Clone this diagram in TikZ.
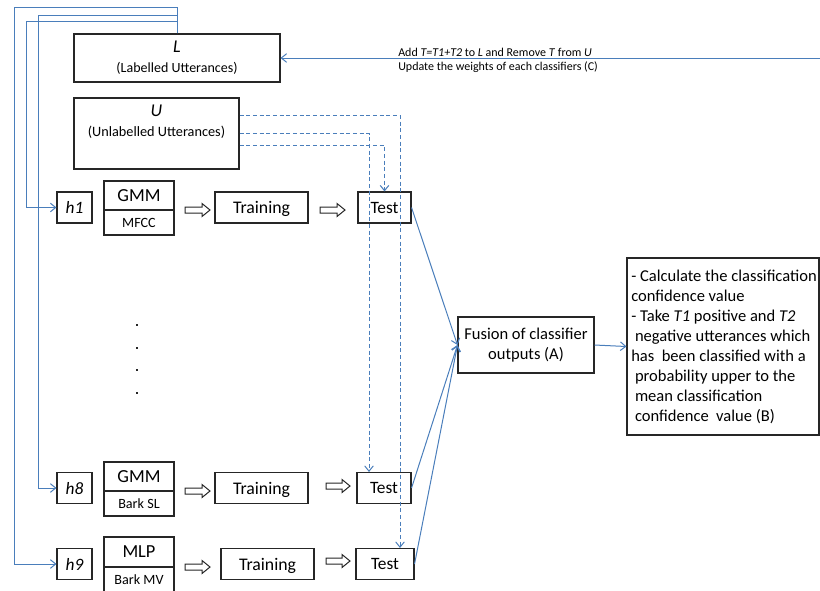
\documentclass[tikz,border=0pt]{standalone}
\usepackage{fontspec}
\setmainfont{Carlito}
\usetikzlibrary{arrows.meta,calc}
\definecolor{lblue}{HTML}{4A7EBB}
\newlength{\pxu}\setlength{\pxu}{0.75pt}
\newcommand{\fs}[2]{\fontsize{#1}{#2}\selectfont}
\newcommand{\harrow}[3]{%
  \draw[hollow] (#1,#2-3) -- (#1+#3-8,#2-3) -- (#1+#3-8,#2-6.5) -- (#1+#3,#2) -- (#1+#3-8,#2+6.5) -- (#1+#3-8,#2+3) -- (#1,#2+3) -- cycle;}
\begin{document}
\begin{tikzpicture}[x=0.75pt,y=-0.75pt,
  box/.style={draw=black!85,line width=0.8pt,inner sep=0pt},
  sbox/.style={box,text depth=0pt},
  conn/.style={draw=lblue,line width=0.75pt,-{Straight Barb[length=4pt,width=6.5pt]}},
  dconn/.style={conn,dash pattern=on 3pt off 2pt},
  hollow/.style={draw=black!85,line width=0.75pt,fill=white},
  hbox/.style={sbox,minimum width=35\pxu,minimum height=31\pxu,font=\fs{13}{15}\itshape},
  topbox/.style={sbox,minimum width=70\pxu,font=\fs{13.8}{16}},
  botbox/.style={sbox,minimum width=70\pxu,font=\fs{10.6}{13}},
  trbox/.style={sbox,minimum width=93\pxu,minimum height=31\pxu,font=\fs{13.3}{15}},
  tebox/.style={sbox,minimum height=31\pxu,font=\fs{13}{15}},
  dotmark/.style={fill=black!85}]
\useasboundingbox (0,0) rectangle (820,590);

% L and U
\node[box,minimum width=206\pxu,minimum height=48\pxu,align=center,font=\fs{10.5}{15}] (L) at (177,58) {{\fs{13.5}{15}\itshape L}\\(Labelled Utterances)};
\node[box,minimum width=165\pxu,minimum height=71\pxu,align=center,font=\fs{10.7}{15}] (U) at (156.5,133.5) {{\fs{13.5}{15}\itshape U}\\(Unlabelled Utterances)\\\strut};

% row 1
\node[hbox] (h1) at (74.5,207.5) {h1};
\node[topbox,minimum height=29\pxu] (g1) at (139,195.5) {GMM};
\node[botbox,minimum height=25\pxu] (f1) at (139,222.5) {MFCC};
\node[trbox] (tr1) at (261.5,207.5) {Training};
\node[tebox,minimum width=53\pxu] (te1) at (384.5,207.5) {Test};
\harrow{185}{210}{25}
\harrow{320}{210}{25}

% row 8
\node[hbox] (h8) at (74.5,488) {h8};
\node[topbox,minimum height=29\pxu] (g8) at (139,476.5) {GMM};
\node[botbox,minimum height=25\pxu] (f8) at (139,503.5) {Bark SL};
\node[trbox] (tr8) at (261.5,488) {Training};
\node[tebox,minimum width=54\pxu] (te8) at (384,488) {Test};
\harrow{185}{491}{25}
\harrow{326}{486}{24}

% row 9
\node[hbox] (h9) at (74.5,564) {h9};
\node[topbox,minimum height=30\pxu] (g9) at (139,552) {MLP};
\node[botbox,minimum height=26\pxu] (f9) at (139,580) {Bark MV};
\node[trbox] (tr9) at (267.5,564) {Training};
\node[tebox,minimum width=58\pxu] (te9) at (385,564) {Test};
\harrow{185}{567}{25}
\harrow{326}{561}{24}

% dots
\foreach \yy in {325,348,370,393} \fill[dotmark] (136,\yy-1) rectangle (138,\yy+1);

% fusion and selection
\node[box,minimum width=136\pxu,minimum height=56\pxu,align=center,font=\fs{12.4}{15}] (fu) at (526,345) {Fusion of classifier\\outputs (A)};
\node[box,minimum width=192\pxu,minimum height=177\pxu] (sel) at (723,346.5) {};
\node[anchor=west,inner sep=0pt,align=left,font=\fs{12.4}{15}] (seltext) at (631,347) {- Calculate the classification\\confidence value\\- Take \textit{T1} positive and \textit{T2}\\\ negative utterances which\\has \ been classified with a\\\ probability upper to the\\\ mean classification\\\ confidence \ value (B)};

% feedback connectors
\coordinate (k1) at (26,21);
\coordinate (k8) at (38,15);
\coordinate (k9) at (14,7);
\draw[conn] (L.north) |- (k1) |- (h1.west);
\draw[conn] (L.north) |- (k8) |- (h8.west);
\draw[conn] (L.north) |- (k9) |- (h9.west);

% dashed connectors from U
\draw[dconn] ($(U.north east)+(0,48)$) -| (te1.north);
\draw[dconn] ($(U.north east)+(0,36)$) -| ($(te8.north)+(-15,0)$);
\draw[dconn] ($(U.north east)+(0,18)$) -| ($(te9.north)+(15,0)$);

% tests to fusion
\draw[conn] (te1.east) -- (fu.west);
\draw[conn] (te8.east) -- (fu.west);
\draw[conn] (te9.east) -- (fu.west);
\draw[conn] (fu.east) -- (sel.west);

% update arrow
\coordinate (fb) at (820,58);
\draw[conn] (fb) -- (L.east);
\node[anchor=base west,inner sep=0pt,font=\fs{9}{10}] (n1) at (398,56.5) {Add \textit{T=T1+T2} to \textit{L} and Remove \textit{T} from \textit{U}};
\node[anchor=base west,inner sep=0pt,font=\fs{9}{10}] (n2) at (398,70) {Update the weights of each classifiers (C)};
\end{tikzpicture}
\end{document}
